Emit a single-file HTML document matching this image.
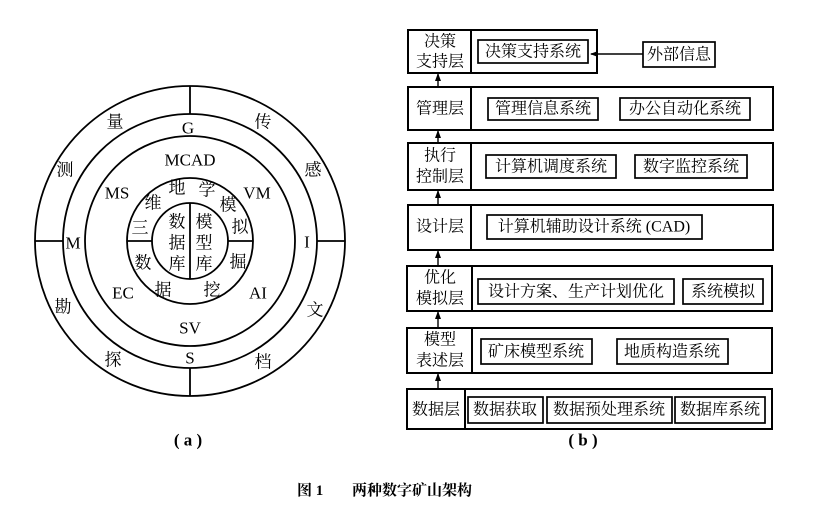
<!DOCTYPE html>
<html><head><meta charset="utf-8"><style>
html,body{margin:0;padding:0;background:#fff;}
svg{display:block;}
text{font-family:"Liberation Serif","Noto Serif CJK SC","Noto Sans CJK SC",serif;fill:#000;}
</style></head><body>
<svg width="827" height="516" viewBox="0 0 827 516" xmlns="http://www.w3.org/2000/svg">
<defs><marker id="ah" markerWidth="8" markerHeight="8" refX="7" refY="4" orient="auto" markerUnits="userSpaceOnUse"><path d="M0,1 L8,4 L0,7 Z" fill="#000"/></marker></defs>
<g fill="none" stroke="#000" stroke-width="1.8">
<circle cx="190" cy="241" r="155"/>
<circle cx="190" cy="241" r="127"/>
<circle cx="190" cy="241" r="105"/>
<circle cx="190" cy="241" r="63"/>
<circle cx="190" cy="241" r="38"/>
<line x1="190" y1="86" x2="190" y2="114"/>
<line x1="190" y1="368" x2="190" y2="396"/>
<line x1="35" y1="241" x2="63" y2="241"/>
<line x1="317" y1="241" x2="345" y2="241"/>
<line x1="127" y1="241" x2="152" y2="241"/>
<line x1="228" y1="241" x2="253" y2="241"/>
<line x1="190" y1="203" x2="190" y2="279"/>
</g>
<g font-size="17" text-anchor="middle" dominant-baseline="central">
<text x="115" y="122">量</text><text x="263" y="122">传</text>
<text x="65" y="170">测</text><text x="313" y="170">感</text>
<text x="63" y="307">勘</text><text x="315" y="310">文</text>
<text x="113" y="360">探</text><text x="263" y="362">档</text>
<text x="188" y="128">G</text><text x="73" y="243">M</text><text x="307" y="242">I</text><text x="190" y="358">S</text>
<text x="190" y="160">MCAD</text><text x="117" y="193">MS</text><text x="257" y="193">VM</text>
<text x="123" y="293">EC</text><text x="258" y="293">AI</text><text x="190" y="328">SV</text>
<text x="177" y="188">地</text><text x="207" y="190">学</text><text x="153" y="203">维</text><text x="228" y="205">模</text>
<text x="140" y="228">三</text><text x="240" y="227">拟</text><text x="143" y="263">数</text><text x="238" y="262">掘</text>
<text x="163" y="290">据</text><text x="212" y="290">挖</text>
<text x="177" y="222">数</text><text x="177" y="243">据</text><text x="177" y="264">库</text>
<text x="204" y="222">模</text><text x="204" y="243">型</text><text x="204" y="264">库</text>
<text x="188" y="440" font-weight="bold">( a )</text>
<text x="583" y="440" font-weight="bold">( b )</text>
</g>
<g fill="none" stroke="#000" stroke-width="2">
<rect x="408" y="30" width="189" height="43"/><line x1="471" y1="30" x2="471" y2="73"/>
<rect x="408" y="87" width="365" height="43"/><line x1="471" y1="87" x2="471" y2="130"/>
<rect x="408" y="143" width="365" height="47"/><line x1="471" y1="143" x2="471" y2="190"/>
<rect x="408" y="205" width="365" height="45"/><line x1="471" y1="205" x2="471" y2="250"/>
<rect x="407" y="266" width="365" height="45"/><line x1="472" y1="266" x2="472" y2="311"/>
<rect x="407" y="328" width="365" height="45"/><line x1="472" y1="328" x2="472" y2="373"/>
<rect x="407" y="389" width="365" height="40"/><line x1="465" y1="389" x2="465" y2="429"/>
</g>
<g fill="none" stroke="#000" stroke-width="1.7">
<rect x="478" y="40" width="110" height="23"/>
<rect x="643" y="42" width="72" height="25"/>
<rect x="488" y="98" width="110" height="22"/>
<rect x="620" y="98" width="130" height="22"/>
<rect x="486" y="155" width="130" height="23"/>
<rect x="635" y="155" width="112" height="23"/>
<rect x="487" y="215" width="215" height="24"/>
<rect x="478" y="279" width="196" height="25"/>
<rect x="683" y="279" width="80" height="25"/>
<rect x="481" y="339" width="111" height="25"/>
<rect x="617" y="339" width="111" height="25"/>
<rect x="468" y="397" width="75" height="26"/>
<rect x="547" y="397" width="125" height="26"/>
<rect x="675" y="397" width="90" height="26"/>
</g>
<g stroke="#000" stroke-width="1.4">
<line x1="643" y1="54" x2="591" y2="54" marker-end="url(#ah)"/>
<line x1="438" y1="87" x2="438" y2="74" marker-end="url(#ah)"/>
<line x1="438" y1="143" x2="438" y2="131" marker-end="url(#ah)"/>
<line x1="438" y1="205" x2="438" y2="191" marker-end="url(#ah)"/>
<line x1="438" y1="266" x2="438" y2="251" marker-end="url(#ah)"/>
<line x1="438" y1="328" x2="438" y2="312" marker-end="url(#ah)"/>
<line x1="438" y1="389" x2="438" y2="374" marker-end="url(#ah)"/>
</g>
<g font-size="16" text-anchor="middle" dominant-baseline="central">
<text x="440" y="42">决策</text><text x="440" y="62">支持层</text>
<text x="533" y="52">决策支持系统</text><text x="679" y="55">外部信息</text>
<text x="440" y="109">管理层</text>
<text x="543" y="109">管理信息系统</text><text x="685" y="109">办公自动化系统</text>
<text x="440" y="156">执行</text><text x="440" y="177">控制层</text>
<text x="551" y="167">计算机调度系统</text><text x="691" y="167">数字监控系统</text>
<text x="440" y="227">设计层</text>
<text x="594" y="227">计算机辅助设计系统 (CAD)</text>
<text x="440" y="278">优化</text><text x="440" y="299">模拟层</text>
<text x="576" y="292">设计方案、生产计划优化</text><text x="723" y="292">系统模拟</text>
<text x="440" y="340">模型</text><text x="440" y="361">表述层</text>
<text x="536" y="352">矿床模型系统</text><text x="672" y="352">地质构造系统</text>
<text x="436" y="410">数据层</text>
<text x="505" y="410">数据获取</text><text x="609" y="410">数据预处理系统</text><text x="720" y="410">数据库系统</text>
</g>
<g font-size="15" font-weight="bold" dominant-baseline="central">
<text x="297" y="491">图 1</text>
<text x="352" y="491">两种数字矿山架构</text>
</g>
</svg>
</body></html>
